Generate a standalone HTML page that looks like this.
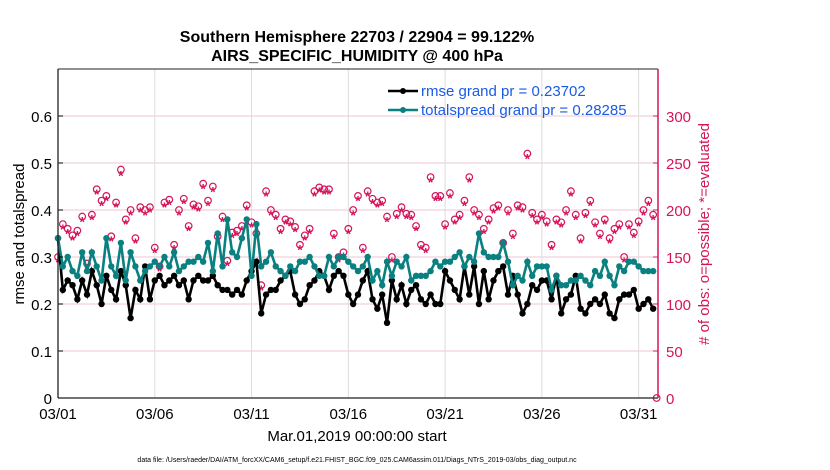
<!DOCTYPE html>
<html><head><meta charset="utf-8"><style>
body{margin:0;background:#fff;}
svg{display:block;font-family:"Liberation Sans",sans-serif;}
</style></head><body>
<svg id="chart" width="830" height="470">
<text x="357" y="42" text-anchor="middle" font-size="16" font-weight="bold">Southern Hemisphere 22703 / 22904 = 99.122%</text>
<text x="357" y="61" text-anchor="middle" font-size="16" font-weight="bold">AIRS_SPECIFIC_HUMIDITY @ 400 hPa</text>
<g id="grid"></g><g id="marks"></g><g id="axes"></g>
<text transform="translate(24,234) rotate(-90)" text-anchor="middle" font-size="15">rmse and totalspread</text>
<text transform="translate(709,234) rotate(-90)" text-anchor="middle" font-size="15" fill="#d6145a"># of obs: o=possible; *=evaluated</text>
<text x="357" y="441" text-anchor="middle" font-size="15">Mar.01,2019 00:00:00 start</text>
<text x="357" y="462" text-anchor="middle" font-size="7">data file: /Users/raeder/DAI/ATM_forcXX/CAM6_setup/f.e21.FHIST_BGC.f09_025.CAM6assim.011/Diags_NTrS_2019-03/obs_diag_output.nc</text>
<g>
<line x1="388" y1="91" x2="418" y2="91" stroke="#000" stroke-width="2.5"/><circle cx="403" cy="91" r="3" fill="#000"/>
<text x="421" y="96" font-size="15" fill="#1a5ae6">rmse grand pr = 0.23702</text>
<line x1="388" y1="110" x2="418" y2="110" stroke="#0a8080" stroke-width="2.5"/><circle cx="403" cy="110" r="3" fill="#0a8080"/>
<text x="421" y="115" font-size="15" fill="#1a5ae6">totalspread grand pr = 0.28285</text>
</g>
</svg>
<script>
const xTickLabels=["03/01","03/06","03/11","03/16","03/21","03/26","03/31"];
const xTickDays=[0,5,10,15,20,25,30];
const yTicks=[0,0.1,0.2,0.3,0.4,0.5,0.6];
const yTickLabels=["0","0.1","0.2","0.3","0.4","0.5","0.6"];
const rTicks=[0,50,100,150,200,250,300];
const rmse=[0.34,0.23,0.25,0.24,0.21,0.25,0.22,0.27,0.24,0.20,0.26,0.23,0.21,0.27,0.24,0.17,0.23,0.21,0.28,0.21,0.25,0.26,0.24,0.25,0.26,0.24,0.25,0.21,0.25,0.26,0.25,0.25,0.26,0.24,0.23,0.23,0.22,0.23,0.22,0.25,0.27,0.29,0.18,0.22,0.23,0.23,0.25,0.26,0.27,0.22,0.20,0.21,0.24,0.25,0.27,0.26,0.23,0.26,0.27,0.26,0.22,0.20,0.22,0.25,0.27,0.21,0.19,0.22,0.16,0.25,0.21,0.24,0.20,0.23,0.24,0.21,0.20,0.22,0.20,0.20,0.27,0.25,0.23,0.21,0.28,0.22,0.28,0.20,0.27,0.21,0.25,0.27,0.28,0.22,0.26,0.22,0.18,0.20,0.24,0.23,0.25,0.25,0.21,0.26,0.18,0.21,0.22,0.26,0.19,0.18,0.20,0.21,0.20,0.22,0.18,0.17,0.21,0.22,0.22,0.23,0.19,0.20,0.21,0.19];
const spread=[0.34,0.28,0.30,0.27,0.26,0.31,0.27,0.31,0.28,0.25,0.34,0.28,0.26,0.33,0.25,0.31,0.28,0.25,0.27,0.28,0.29,0.28,0.30,0.28,0.31,0.27,0.28,0.29,0.29,0.30,0.29,0.33,0.27,0.35,0.28,0.38,0.31,0.30,0.34,0.38,0.26,0.37,0.28,0.29,0.31,0.28,0.27,0.26,0.28,0.27,0.29,0.29,0.30,0.28,0.26,0.26,0.30,0.28,0.30,0.30,0.29,0.28,0.27,0.28,0.30,0.25,0.27,0.24,0.29,0.26,0.29,0.28,0.30,0.25,0.26,0.26,0.26,0.27,0.29,0.28,0.29,0.29,0.30,0.31,0.28,0.30,0.29,0.35,0.31,0.30,0.30,0.30,0.33,0.29,0.24,0.26,0.25,0.29,0.26,0.28,0.28,0.28,0.23,0.26,0.24,0.24,0.25,0.25,0.26,0.25,0.24,0.27,0.26,0.29,0.26,0.24,0.28,0.27,0.29,0.29,0.28,0.27,0.27,0.27];
const obsPossible=[150,185,180,173,178,193,143,195,222,210,215,172,208,243,190,200,170,203,200,203,160,140,208,211,163,200,212,183,206,204,228,210,225,172,193,146,176,178,183,205,187,175,120,220,200,195,180,190,188,182,163,173,180,220,224,222,222,175,150,155,180,200,215,160,220,212,208,210,193,150,196,203,196,195,183,163,160,235,215,215,185,218,190,195,210,235,200,195,180,190,202,205,165,200,175,205,203,260,197,190,195,188,163,190,187,200,220,195,170,197,210,187,175,190,170,180,185,150,185,176,188,200,210,195];
const obsEval=[146,181,176,169,174,189,139,191,218,206,211,168,204,238,186,196,166,199,196,199,156,136,204,207,159,196,208,179,202,200,224,206,221,168,189,142,172,174,179,201,183,171,116,216,196,191,176,186,184,178,159,169,176,216,220,218,218,171,146,151,176,196,211,156,216,208,204,206,189,146,192,199,192,191,179,159,156,231,211,211,181,214,186,191,206,231,196,191,176,186,198,201,161,196,171,201,199,256,193,186,191,184,159,186,183,196,216,191,166,193,206,183,171,186,166,176,181,146,181,172,184,196,206,191];
const lastPossibleDay=30.93;
const X0=58,X1=658,Y0=398,YT=69;
const xs=d=>X0+d*(X1-X0)/31;
const yl=v=>Y0-v*(Y0-YT)/0.7;
const yr=v=>Y0-v*(Y0-YT)/350;
const NS="http://www.w3.org/2000/svg";
function mk(tag,attrs,parent){const e=document.createElementNS(NS,tag);for(const k in attrs)e.setAttribute(k,attrs[k]);parent.appendChild(e);return e;}
const grid=document.getElementById('grid'),marks=document.getElementById('marks'),axes=document.getElementById('axes');
mk('rect',{x:X0,y:YT,width:X1-X0,height:Y0-YT,fill:'#fff'},grid);
yTicks.forEach((v,i)=>{const l=mk('line',{x1:X0,x2:X1,y1:yl(v),y2:yl(v),stroke:'#f2c6d6','stroke-width':1},grid);


const t=mk('text',{x:X0-6,y:yl(v)+6,'text-anchor':'end','font-size':15},axes);t.textContent=yTickLabels[i];


mk('line',{x1:X0,x2:X0+5,y1:yl(v),y2:yl(v),stroke:'#000'},axes);});
rTicks.forEach(v=>{const t=mk('text',{x:X1+8,y:yr(v)+6,'font-size':15,fill:'#d6145a'},axes);t.textContent=v;


mk('line',{x1:X1-5,x2:X1,y1:yr(v),y2:yr(v),stroke:'#d6145a'},axes);});
xTickDays.forEach((d,i)=>{const l=mk('line',{x1:xs(d),x2:xs(d),y1:YT,y2:Y0,stroke:'#dcdcdc'},grid);


const t=mk('text',{x:xs(d),y:Y0+21,'text-anchor':'middle','font-size':15},axes);t.textContent=xTickLabels[i];

});
mk('line',{x1:X0,x2:X0,y1:YT,y2:Y0,stroke:'#222','stroke-width':1.3},axes);
mk('line',{x1:X0,x2:X1,y1:Y0,y2:Y0,stroke:'#222','stroke-width':1.3},axes);
mk('line',{x1:X0,x2:X1,y1:YT,y2:YT,stroke:'#222','stroke-width':1},axes);
mk('line',{x1:X1,x2:X1,y1:YT,y2:Y0,stroke:'#d6145a','stroke-width':1.5},axes);
const day=i=>i*0.25;
obsPossible.forEach((v,i)=>{const c=mk('circle',{cx:xs(day(i)),cy:yr(v),r:3.3,fill:'none',stroke:'#d6145a','stroke-width':1.2},marks);

});
obsEval.forEach((v,i)=>{const t=mk('text',{x:xs(day(i)),y:yr(v)+6,'text-anchor':'middle','font-size':14,fill:'#d6145a','font-weight':'bold'},marks);t.textContent='*';

});
const lc=mk('circle',{cx:xs(lastPossibleDay),cy:yr(0),r:3.3,fill:'none',stroke:'#d6145a','stroke-width':1.2},marks);


function series(vals,col,name){
const p=mk('polyline',{points:vals.map((v,i)=>xs(day(i))+','+yl(v)).join(' '),fill:'none',stroke:col,'stroke-width':2.6},marks);


vals.forEach((v,i)=>{const c=mk('circle',{cx:xs(day(i)),cy:yl(v),r:3.2,fill:col},marks);

});}
series(rmse,'#000','rmse');
series(spread,'#0a8080','totalspread');
</script>
</body></html>
